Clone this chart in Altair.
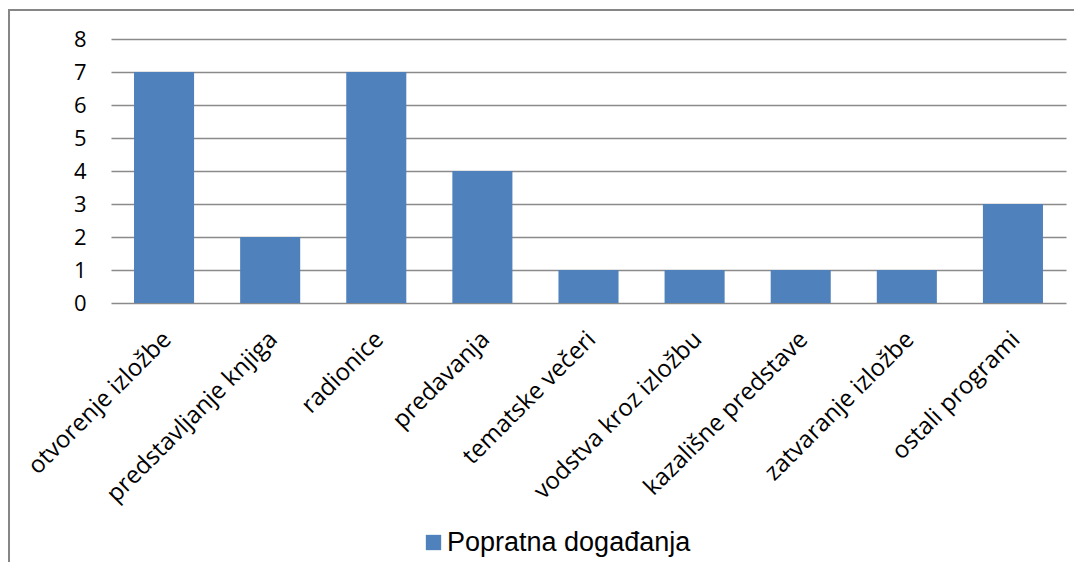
import altair as alt
import pandas as pd

categories = ["otvorenje izložbe", "predstavljanje knjiga", "radionice", "predavanja",
              "tematske večeri", "vodstva kroz izložbu", "kazališne predstave",
              "zatvaranje izložbe", "ostali programi"]
values = [7, 2, 7, 4, 1, 1, 1, 1, 3]
series = ["Popratna događanja"] * len(categories)

df = pd.DataFrame({"kategorija": categories, "broj": values, "serija": series})

bars = alt.Chart(df).mark_bar(color="#4F81BD").encode(
    x=alt.X("kategorija:N", sort=categories, title=None,
            scale=alt.Scale(paddingInner=0.434, paddingOuter=0.217),
            axis=alt.Axis(labelAngle=-45, labelFont="Open Sans", labelFontSize=24,
                          labelColor="#000000", ticks=False, domain=False,
                          labelPadding=24, labelOffset=-5, labelLimit=400)),
    y=alt.Y("broj:Q", title=None,
            scale=alt.Scale(domain=[0, 8], nice=False),
            axis=alt.Axis(values=[0, 1, 2, 3, 4, 5, 6, 7, 8], labelFont="Open Sans",
                          labelFontSize=22, labelColor="#000000", ticks=False,
                          domain=False, labelPadding=25, gridColor="#8a8a8a",
                          gridWidth=1.6, gridOpacity=1)),
    color=alt.Color("serija:N", title=None,
                    scale=alt.Scale(range=["#4F81BD"]),
                    legend=alt.Legend(orient="none", legendX=309, legendY=490,
                                      symbolType="square", symbolSize=235,
                                      symbolStrokeWidth=0, labelFont="Liberation Sans",
                                      labelFontSize=27, labelColor="#000000",
                                      labelLimit=400, labelOffset=0)),
)

frame = alt.Chart(df).mark_rect(fill=None, stroke="#878787", strokeWidth=1.6).encode(
    x=alt.value(-102), x2=alt.value(1000), y=alt.value(-29), y2=alt.value(600)
)

chart = alt.layer(frame, bars).properties(
    width=955, height=264,
    autosize=alt.AutoSizeParams(type="none"),
    padding={"left": 103, "top": 31, "right": 8, "bottom": 259},
).configure_view(stroke=None)

chart.save("out.html", embed_options={"renderer": "svg", "actions": False})
